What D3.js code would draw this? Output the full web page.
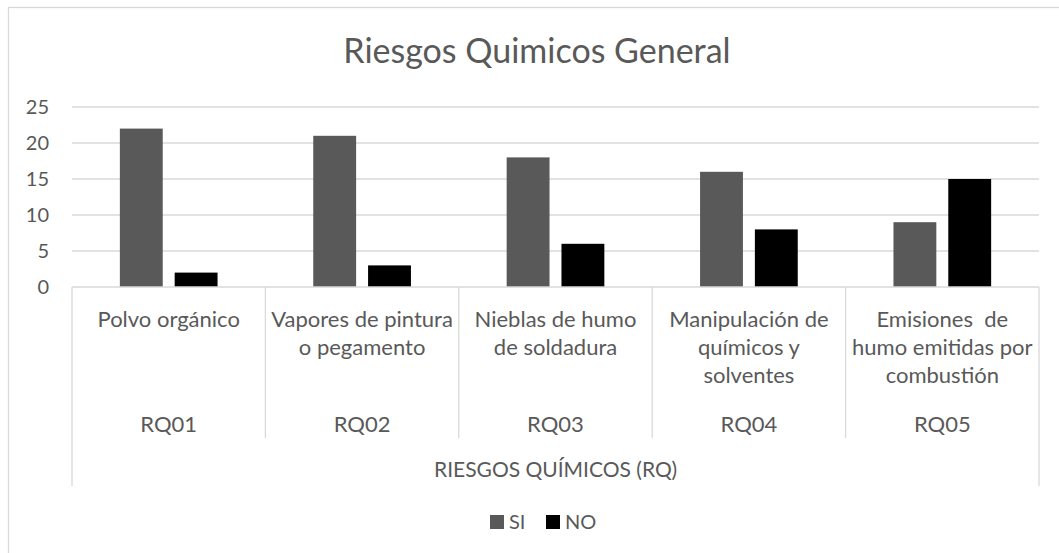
<!DOCTYPE html>
<meta charset="utf-8">
<style>
  body { margin: 0; background: #fff; }
  text { font-family: Lato, "Open Sans", sans-serif; fill: #595959; }
  .grid line { stroke: #d9d9d9; stroke-width: 1.3px; }
  .cataxis { stroke: #d9d9d9; stroke-width: 1.3px; fill: none; }
</style>
<svg width="1059" height="553"></svg>
<script src="https://d3js.org/d3.v7.min.js"></script>
<script>

var codes = ["RQ01", "RQ02", "RQ03", "RQ04", "RQ05"];
var catLines = [
  ["Polvo orgánico"],
  ["Vapores de pintura", "o pegamento"],
  ["Nieblas de humo", "de soldadura"],
  ["Manipulación de", "químicos y", "solventes"],
  ["Emisiones  de", "humo emitidas por", "combustión"]
];
var groupLabel = "RIESGOS QUÍMICOS (RQ)";
var seriesNames = ["SI", "NO"];
var siValues = [22, 21, 18, 16, 9];
var noValues = [2, 3, 6, 8, 15];
var yTicks = [0, 5, 10, 15, 20, 25];
var colors = {SI: "#595959", NO: "#000000"};

var svg = d3.select("svg"),
    margin = {top: 107, left: 72, right: 1039, bottom: 287};

// chart area border
svg.append("rect")
    .attr("x", 8.5).attr("y", 7.5)
    .attr("width", 1058).attr("height", 560)
    .attr("fill", "none")
    .attr("stroke", "#d9d9d9")
    .attr("stroke-width", 1.3);

svg.append("text")
    .attr("x", 537).attr("y", 63)
    .attr("text-anchor", "middle")
    .style("font-size", "34px")
    .text("Riesgos Quimicos General");

var x = d3.scaleBand().domain(codes).range([margin.left, margin.right]);
var xs = d3.scaleBand().domain(seriesNames).range([0, x.bandwidth()])
    .paddingInner(0.218).paddingOuter(0.873);
var y = d3.scaleLinear().domain([0, 25]).range([margin.bottom, margin.top]);

// gridlines
var grid = svg.append("g").attr("class", "grid");
grid.selectAll("line")
  .data(yTicks.filter(function(d) { return d > 0; }))
  .enter().append("line")
    .attr("x1", margin.left).attr("x2", margin.right)
    .attr("y1", function(d) { return y(d); })
    .attr("y2", function(d) { return y(d); });

// y tick labels
svg.append("g").selectAll("text")
  .data(yTicks)
  .enter().append("text")
    .attr("x", 49)
    .attr("y", function(d) { return y(d) + 7; })
    .attr("text-anchor", "end")
    .style("font-size", "20px")
    .text(function(d) { return d; });

// bars
var data = codes.map(function(c, i) {
  return {code: c, values: [{key: "SI", v: siValues[i]}, {key: "NO", v: noValues[i]}]};
});

var groups = svg.append("g").selectAll("g")
  .data(data)
  .enter().append("g")
    .attr("transform", function(d) { return "translate(" + x(d.code) + ",0)"; });

groups.selectAll("rect")
  .data(function(d) { return d.values; })
  .enter().append("rect")
    .attr("x", function(d) { return xs(d.key); })
    .attr("width", xs.bandwidth())
    .attr("y", function(d) { return y(d.v); })
    .attr("height", function(d) { return y(0) - y(d.v); })
    .attr("fill", function(d) { return colors[d.key]; });

// multi-level category axis
var yAxisLine = y(0);
svg.append("line").attr("class", "cataxis")
    .attr("x1", margin.left).attr("x2", margin.right)
    .attr("y1", yAxisLine).attr("y2", yAxisLine);

svg.append("line").attr("class", "cataxis")
    .attr("x1", margin.left).attr("x2", margin.left)
    .attr("y1", yAxisLine).attr("y2", 486);
svg.append("line").attr("class", "cataxis")
    .attr("x1", margin.right).attr("x2", margin.right)
    .attr("y1", yAxisLine).attr("y2", 486);

svg.append("g").selectAll("line")
  .data(codes.slice(1))
  .enter().append("line")
    .attr("class", "cataxis")
    .attr("x1", function(d) { return x(d); })
    .attr("x2", function(d) { return x(d); })
    .attr("y1", yAxisLine).attr("y2", 438);

var catText = svg.append("g").selectAll("text")
  .data(codes)
  .enter().append("text")
    .attr("text-anchor", "middle")
    .attr("x", function(d) { return x(d) + x.bandwidth() / 2; })
    .attr("y", 327)
    .style("font-size", "22px");

catText.selectAll("tspan")
  .data(function(d, i) { return catLines[i]; })
  .enter().append("tspan")
    .attr("x", function() { return d3.select(this.parentNode).attr("x"); })
    .attr("dy", function(d, i) { return i === 0 ? 0 : 28; })
    .style("white-space", "pre")
    .text(function(d) { return d; });

svg.append("g").selectAll("text")
  .data(codes)
  .enter().append("text")
    .attr("text-anchor", "middle")
    .attr("x", function(d) { return x(d) + x.bandwidth() / 2; })
    .attr("y", 432)
    .style("font-size", "22px")
    .text(function(d) { return d; });

svg.append("text")
    .attr("x", (margin.left + margin.right) / 2)
    .attr("y", 477)
    .attr("text-anchor", "middle")
    .style("font-size", "21px")
    .text(groupLabel);

// legend
var legendX = [490, 546];
var legend = svg.append("g").selectAll("g")
  .data(seriesNames)
  .enter().append("g")
    .attr("transform", function(d, i) { return "translate(" + legendX[i] + ",515)"; });

legend.append("rect")
    .attr("width", 14).attr("height", 14)
    .attr("fill", function(d) { return colors[d]; });

legend.append("text")
    .attr("x", 19).attr("y", 14)
    .style("font-size", "20px")
    .text(function(d) { return d; });

</script>
